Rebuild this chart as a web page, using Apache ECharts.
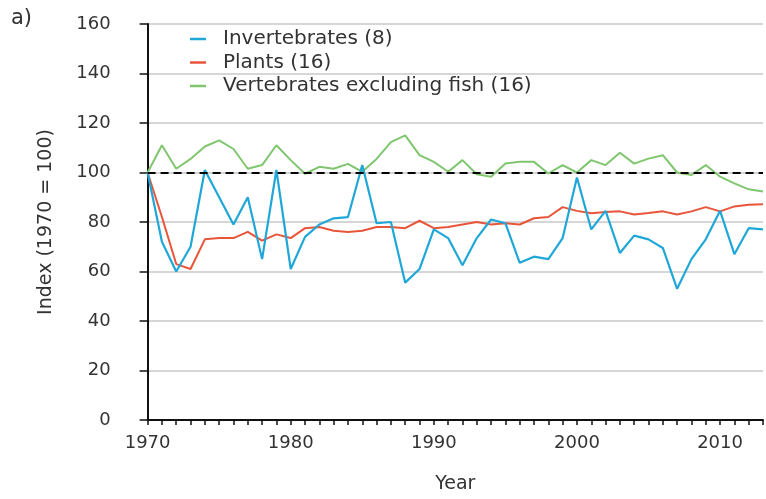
<!DOCTYPE html>
<html>
<head>
<meta charset="utf-8">
<script src="https://cdn.jsdelivr.net/npm/echarts@6/dist/echarts.min.js"></script>
<style>
html,body{margin:0;padding:0;background:#fff;}
#main{width:766px;height:499px;}
</style>
</head>
<body>
<div id="main"></div>
<script>
const years = [1970,1971,1972,1973,1974,1975,1976,1977,1978,1979,1980,1981,1982,1983,1984,1985,1986,1987,1988,1989,1990,1991,1992,1993,1994,1995,1996,1997,1998,1999,2000,2001,2002,2003,2004,2005,2006,2007,2008,2009,2010,2011,2012,2013];
const invertebrates = [100,72,60,70,101,90,79,90,65,101,61,74,79,81.5,82,103,79.5,80,55.5,61,77,73.5,62.5,73.5,81,79.5,63.5,66,65,73.5,98,77,84.5,67.5,74.5,73,69.5,53,65,73,84.5,67,77.5,77];
const plants = [100,82,63,61,73,73.5,73.5,76,72.5,75,73.5,77.5,78,76.5,76,76.5,78,78,77.5,80.5,77.5,78,79,80,79,79.5,79,81.5,82,86,84.5,83.5,84,84.3,83,83.6,84.3,83,84.3,86,84.3,86.3,87,87.2];
const vertebrates = [100,111,101.5,105.5,110.5,113,109.5,101.5,103,111,105,99.5,102.3,101.5,103.5,100.3,105.5,112.3,115,107,104.3,100.3,105,99.3,98.3,103.6,104.3,104.3,99.6,103,100,105,103,108,103.6,105.6,107,100,99,103,98.3,95.6,93.2,92.3];
const seriesNames = ['Invertebrates (8)','Plants (16)','Vertebrates excluding fish (16)'];
const yTicks = [0,20,40,60,80,100,120,140,160];
const xTickLabels = [1970,1980,1990,2000,2010];
const baseline = 100;

const FONT = '"DejaVu Sans", Verdana, sans-serif';
const TXT = '#333';
function pairs(vals){ return years.map((y,i)=>[y, vals[i]]); }

const chart = echarts.init(document.getElementById('main'), null, {renderer:'canvas'});
chart.setOption({
  animation:false,
  backgroundColor:'#fff',
  graphic:[{type:'text', left:11, top:8, style:{text:'a)', font:'21px '+FONT, fill:TXT}}],
  legend:{
    orient:'vertical', left:185, top:24, itemWidth:16, itemHeight:2.5, itemGap:3.5,
    icon:'rect',
    textStyle:{fontFamily:FONT, fontSize:20, color:TXT, padding:[0,0,0,12], lineHeight:20},
    data:seriesNames
  },
  grid:{left:147.6, right:1.3, top:24, bottom:75, containLabel:false},
  xAxis:{
    type:'value', min:1970, max:2013, interval:10,
    name:'Year', nameLocation:'middle', nameGap:55,
    nameTextStyle:{fontFamily:FONT, fontSize:19, color:TXT},
    axisLine:{show:true, onZero:false, lineStyle:{color:'#111', width:2}},
    axisTick:{show:true, length:5, lineStyle:{color:'#111', width:1.5}},
    minorTick:{show:true, splitNumber:10, length:5, lineStyle:{color:'#111', width:1.5}},
    axisLabel:{fontFamily:FONT, fontSize:18, color:TXT, margin:14,
      formatter:v=> xTickLabels.indexOf(v)>=0 ? String(v) : ''},
    splitLine:{show:false}
  },
  yAxis:{
    type:'value', min:0, max:160, interval:20,
    name:'Index (1970 = 100)', nameLocation:'middle', nameGap:92,
    nameTextStyle:{fontFamily:FONT, fontSize:19, color:TXT},
    axisLine:{show:true, lineStyle:{color:'#111', width:2}},
    axisTick:{show:true, length:8, lineStyle:{color:'#111', width:1.5}},
    axisLabel:{fontFamily:FONT, fontSize:18, color:TXT, margin:37,
      formatter:v=> yTicks.indexOf(v)>=0 ? String(v) : ''},
    splitLine:{show:true, lineStyle:{color:'#c9c9c9', width:1.5}}
  },
  series:[
    {name:'baseline', type:'line', data:[], z:1, silent:true,
     markLine:{silent:true, symbol:'none', label:{show:false},
       lineStyle:{color:'#000', type:[8,5], width:2}, data:[{yAxis:baseline}]}},
    {name:seriesNames[1], type:'line', data:pairs(plants), showSymbol:false, z:2,
     lineStyle:{color:'#e8553b', width:2}, itemStyle:{color:'#e8553b'}},
    {name:seriesNames[2], type:'line', data:pairs(vertebrates), showSymbol:false, z:3,
     lineStyle:{color:'#7fc66f', width:2}, itemStyle:{color:'#7fc66f'}},
    {name:seriesNames[0], type:'line', data:pairs(invertebrates), showSymbol:false, z:4,
     lineStyle:{color:'#1fa7d8', width:2.2}, itemStyle:{color:'#1fa7d8'}}
  ]
});
</script>
</body>
</html>
